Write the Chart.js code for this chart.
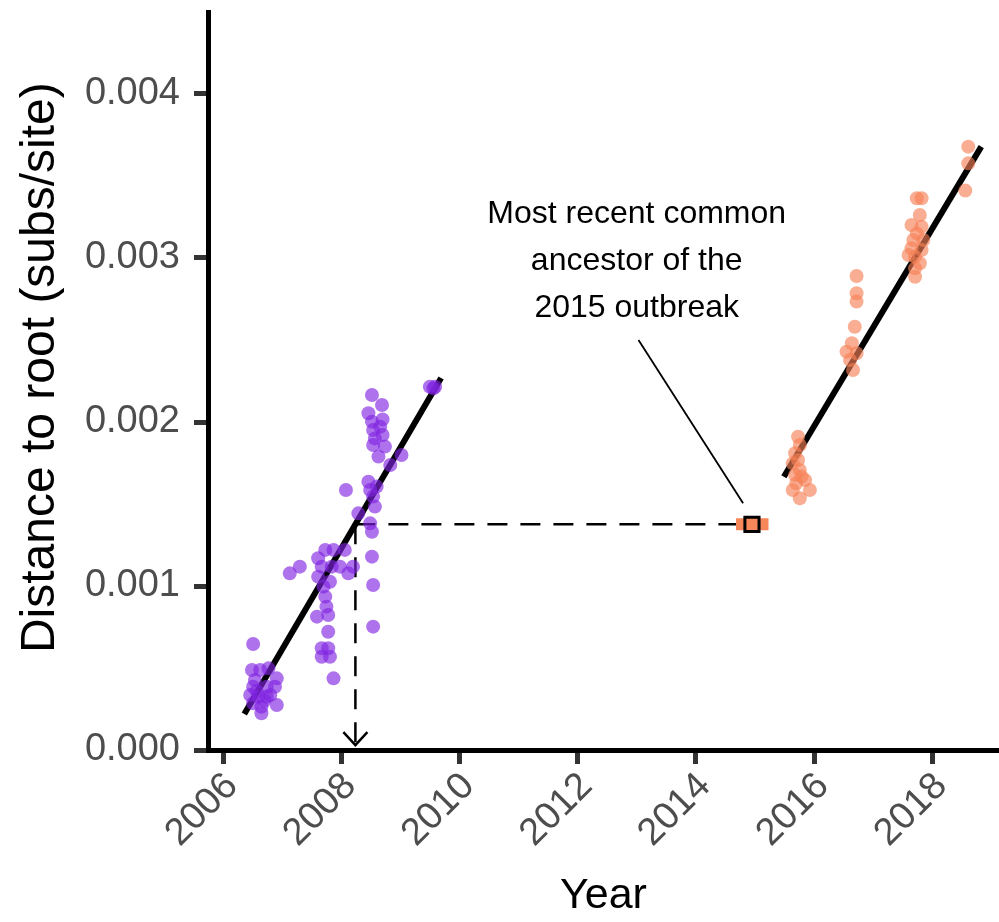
<!DOCTYPE html>
<html>
<head>
<meta charset="utf-8">
<script src="https://cdn.jsdelivr.net/npm/chart.js@4.4.1/dist/chart.umd.min.js"></script>
<style>
  html, body { margin: 0; padding: 0; background: #fff; }
  #wrap { width: 999px; height: 922px; position: relative; }
</style>
</head>
<body>
<div id="wrap"><canvas id="rootToTip"></canvas></div>
<script>
// tip dates (year) and root-to-tip distance (subs/site)
const purpleYears = [
	2008.52, 2008.69, 2008.46, 2008.70, 2008.52, 2008.66, 2008.54, 2008.70, 2008.57, 2008.54,
	2008.74, 2008.63, 2009.50, 2009.59, 2009.56, 2009.02, 2008.83,
	2008.08, 2008.46, 2008.60, 2008.49, 2008.54, 2008.57, 2008.29, 2008.49, 2008.52, 2008.52,
	2008.54, 2008.54,
	2007.73, 2007.87, 2008.06, 2007.61, 2007.67, 2007.84, 2007.98, 2008.20, 2008.12, 2007.13,
	2007.30, 2007.61, 2007.81, 2007.70, 2007.73, 2007.75, 2007.59, 2007.78, 2007.78, 2007.67,
	2007.78, 2007.67, 2007.81, 2007.87,
	2006.51, 2006.49, 2006.63, 2006.77, 2006.91, 2006.54, 2006.51, 2006.74, 2006.88, 2006.80,
	2006.46, 2006.60, 2006.74, 2006.51, 2006.65, 2006.91, 2006.65, 2006.57, 2006.70,
];
const purpleDist = [
	0.002165, 0.002104, 0.002053, 0.002016, 0.002002, 0.001971, 0.001951, 0.001921, 0.001900, 0.001860,
	0.001850, 0.001789, 0.002215, 0.002215, 0.002205, 0.001799, 0.001738,
	0.001585, 0.001636, 0.001606, 0.001585, 0.001545, 0.001484, 0.001443, 0.001382, 0.001331, 0.001179,
	0.001006, 0.000752,
	0.001220, 0.001220, 0.001220, 0.001169, 0.001118, 0.001118, 0.001118, 0.001118, 0.001077, 0.001077,
	0.001118, 0.001057, 0.001026, 0.000996, 0.000935, 0.000874, 0.000813, 0.000823, 0.000721, 0.000620,
	0.000620, 0.000569, 0.000569, 0.000437,
	0.000646, 0.000488, 0.000488, 0.000498, 0.000437, 0.000427, 0.000386, 0.000386, 0.000386, 0.000335,
	0.000335, 0.000325, 0.000325, 0.000285, 0.000264, 0.000274, 0.000224, 0.000360, 0.000300,
];
const orangeYears = [
	2018.61, 2018.61, 2018.56,
	2017.74, 2017.82, 2017.79, 2017.65, 2017.82, 2017.74, 2017.68, 2017.85, 2017.65, 2017.82,
	2017.71, 2017.79, 2017.71, 2017.71, 2017.60,
	2016.72, 2016.72, 2016.72, 2016.69, 2016.64, 2016.55, 2016.72, 2016.61, 2016.66,
	2015.73, 2015.76, 2015.68, 2015.73, 2015.64, 2015.76, 2015.68, 2015.85, 2015.70, 2015.64,
	2015.93, 2015.76, 2015.79,
];
const orangeDist = [
	0.003679, 0.003577, 0.003411,
	0.003364, 0.003364, 0.003262, 0.003201, 0.003191, 0.003150, 0.003110, 0.003110, 0.003059, 0.003049,
	0.003008, 0.002968, 0.002937, 0.002886, 0.003018,
	0.002890, 0.002785, 0.002734, 0.002581, 0.002480, 0.002429, 0.002419, 0.002378, 0.002317,
	0.001910, 0.001860, 0.001809, 0.001768, 0.001748, 0.001707, 0.001677, 0.001646, 0.001626, 0.001585,
	0.001585, 0.001535, 0.001667,
];

// regression fits (end points)
const purpleFitYears = [2006.36, 2009.69];
const purpleFitDist = [0.000220, 0.002268];
const orangeFitYears = [2015.49, 2018.83];
const orangeFitDist = [0.001666, 0.003679];

// MRCA of the 2015 outbreak and its interval
const mrcaYear = 2014.95;
const mrcaDist = 0.001376;
const mrcaRange = [2014.68, 2015.23];
const fitCrossYear = 2008.24;
const dashEndYear = 2014.73;
const arrowTipDist = 0.00003;
const leaderYears = [2013.03, 2014.80];
const leaderDist = [0.00250, 0.001504];
const noteLines = ['Most recent common', 'ancestor of the', '2015 outbreak'];
const noteYear = 2013.0;
const noteDist = [0.003215, 0.002925, 0.002640];

// axes
const xTickValues = [2006, 2008, 2010, 2012, 2014, 2016, 2018];
const yTickValues = [0, 0.001, 0.002, 0.003, 0.004];
const xRange = [2005.746, 2019.13];
const yRange = [0, 0.0045];

const pts = (xs, ys) => xs.map((x, i) => ({ x: x, y: ys[i] }));

const PURPLE = 'rgba(128, 36, 226, 0.64)';
const ORANGE = 'rgba(246, 128, 86, 0.64)';
const ORANGE_SOLID = '#f5875a';

Chart.defaults.font.family = '"Liberation Sans", Arial, Helvetica, sans-serif';

const noteAndArrow = {
	id: 'noteAndArrow',
	afterDatasetsDraw (chart) {
		const { ctx, scales: { x, y } } = chart;
		ctx.save();
		// arrow head on the dashed drop line
		const ax = x.getPixelForValue(fitCrossYear);
		const ay = y.getPixelForValue(arrowTipDist);
		ctx.beginPath();
		ctx.moveTo(ax - 12, ay - 13);
		ctx.lineTo(ax, ay);
		ctx.lineTo(ax + 12, ay - 13);
		ctx.lineWidth = 2.5;
		ctx.strokeStyle = '#000';
		ctx.stroke();
		// annotation text
		ctx.font = '32px "Liberation Sans", Arial, sans-serif';
		ctx.fillStyle = '#000';
		ctx.textAlign = 'center';
		ctx.textBaseline = 'alphabetic';
		noteLines.forEach((t, i) => {
			ctx.fillText(t, x.getPixelForValue(noteYear), y.getPixelForValue(noteDist[i]));
		});
		ctx.restore();
	},
};

const tickGrid = {
	display: true,
	drawOnChartArea: false,
	drawTicks: true,
	tickLength: 14,
	tickWidth: 5,
	tickColor: '#333333',
};
const axisBorder = { display: true, color: '#000', width: 5 };

// fixed axis sizes so the plot area sits where it does in the figure
const fixSize = (prop, size) => (s) => {
	s[prop] = size;
	s.paddingTop = 0;
	s.paddingBottom = 0;
	s.paddingLeft = 0;
	s.paddingRight = 0;
};

const ctx = document.getElementById('rootToTip').getContext('2d');
new Chart(ctx, {
	type: 'scatter',
	data: {
		datasets: [
			{
				data: pts(purpleFitYears, purpleFitDist),
				showLine: true, borderColor: '#000', borderWidth: 6, pointRadius: 0, order: 5,
			},
			{
				data: pts(orangeFitYears, orangeFitDist),
				showLine: true, borderColor: '#000', borderWidth: 6, pointRadius: 0, order: 5,
			},
			{
				data: pts([fitCrossYear, dashEndYear], [mrcaDist, mrcaDist]),
				showLine: true, borderColor: '#000', borderWidth: 2.5, borderDash: [20, 13], pointRadius: 0, order: 4,
			},
			{
				data: pts([fitCrossYear, fitCrossYear], [mrcaDist, arrowTipDist]),
				showLine: true, borderColor: '#000', borderWidth: 2.5, borderDash: [20, 13], pointRadius: 0, order: 4,
			},
			{
				data: pts(leaderYears, leaderDist),
				showLine: true, borderColor: '#000', borderWidth: 1.8, pointRadius: 0, order: 4,
			},
			{
				data: pts(mrcaRange, [mrcaDist, mrcaDist]),
				showLine: true, borderColor: ORANGE_SOLID, borderWidth: 12, borderCapStyle: 'butt', pointRadius: 0, order: 3,
			},
			{
				data: pts(purpleYears, purpleDist),
				backgroundColor: PURPLE, borderWidth: 0, pointRadius: 7, order: 2,
			},
			{
				data: pts(orangeYears, orangeDist),
				backgroundColor: ORANGE, borderWidth: 0, pointRadius: 7, order: 2,
			},
			{
				data: [{ x: mrcaYear, y: mrcaDist }],
				pointStyle: 'rect', pointRadius: 10, backgroundColor: ORANGE_SOLID,
				borderColor: '#000', borderWidth: 3, order: 1,
			},
		],
	},
	options: {
		responsive: true,
		maintainAspectRatio: false,
		animation: false,
		events: [],
		layout: { autoPadding: false, padding: { top: 12, right: 0, bottom: 0, left: 0 } },
		plugins: { legend: { display: false }, tooltip: { enabled: false } },
		scales: {
			x: {
				type: 'linear',
				min: xRange[0],
				max: xRange[1],
				afterFit: fixSize('height', 172),
				afterBuildTicks: (s) => { s.ticks = xTickValues.map((v) => ({ value: v })); },
				grid: tickGrid,
				border: axisBorder,
				ticks: {
					autoSkip: false, minRotation: 45, maxRotation: 45, padding: 0, labelOffset: 9,
					color: '#4d4d4d', font: { size: 38 },
					callback: (v) => String(v),
				},
				title: {
					display: true, text: 'Year', color: '#000',
					font: { size: 43 }, padding: { top: 0, bottom: 0 },
				},
			},
			y: {
				type: 'linear',
				min: yRange[0],
				max: yRange[1],
				afterFit: fixSize('width', 208),
				afterBuildTicks: (s) => { s.ticks = yTickValues.map((v) => ({ value: v })); },
				grid: tickGrid,
				border: axisBorder,
				ticks: {
					padding: 14, color: '#4d4d4d', font: { size: 38 },
					callback: (v) => v.toFixed(3),
				},
				title: {
					// two leading spaces nudge the centred title up, as in the figure
					display: true, text: '  Distance to root (subs/site)', color: '#000',
					font: { size: 48 }, padding: { top: 12, bottom: 0 },
				},
			},
		},
	},
	plugins: [noteAndArrow],
});
</script>
</body>
</html>
